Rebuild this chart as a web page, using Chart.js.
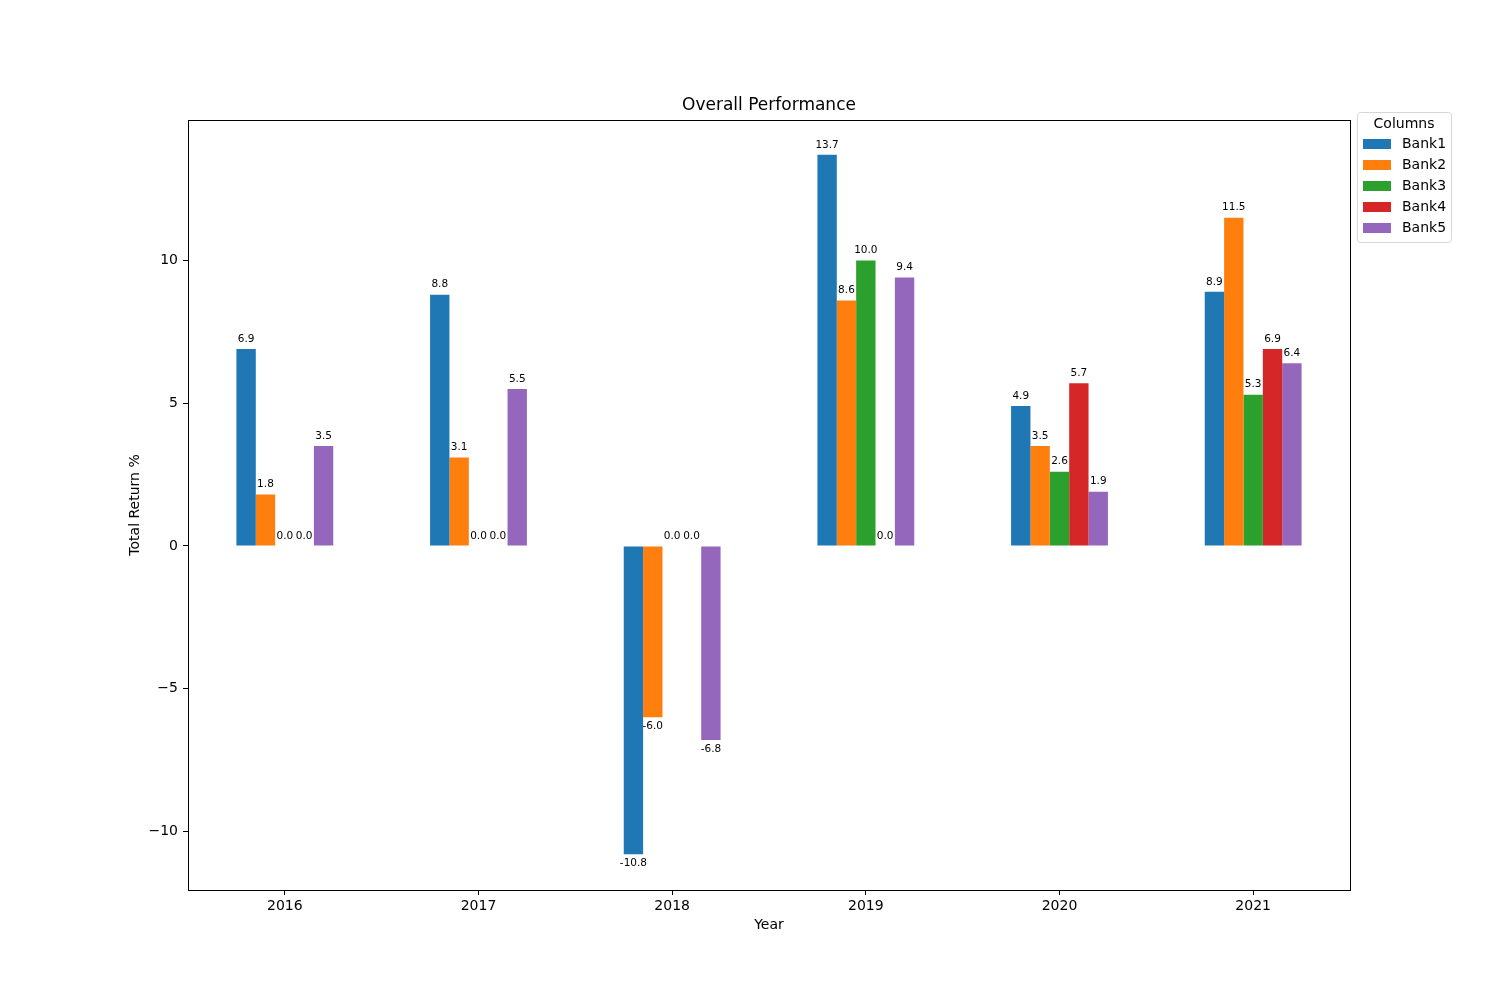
<!DOCTYPE html>
<html>
<head>
<meta charset="utf-8">
<script src="https://cdn.jsdelivr.net/npm/chart.js@4"></script>
<style>
  html, body { margin: 0; padding: 0; background: #fff; }
  #wrap { width: 1500px; height: 1000px; }
</style>
</head>
<body>
<div id="wrap"><canvas id="perfChart" width="1500" height="1000"></canvas></div>
<script>
const years = ['2016', '2017', '2018', '2019', '2020', '2021'];
const bankNames = ['Bank1', 'Bank2', 'Bank3', 'Bank4', 'Bank5'];
const bank1 = [6.9, 8.8, -10.8, 13.7, 4.9, 8.9];
const bank2 = [1.8, 3.1, -6.0, 8.6, 3.5, 11.5];
const bank3 = [0.0, 0.0, 0.0, 10.0, 2.6, 5.3];
const bank4 = [0.0, 0.0, 0.0, 0.0, 5.7, 6.9];
const bank5 = [3.5, 5.5, -6.8, 9.4, 1.9, 6.4];
const yTicks = [-10, -5, 0, 5, 10];
const colors = ['#1f77b4', '#ff7f0e', '#2ca02c', '#d62728', '#9467bd'];

const FONT = '"DejaVu Sans", sans-serif';

const decorPlugin = {
  id: 'decor',
  afterDatasetsDraw(chart) {
    const { ctx, chartArea } = chart;
    ctx.save();

    // value labels over / under each bar
    ctx.font = `10.5px ${FONT}`;
    ctx.fillStyle = '#000';
    ctx.textAlign = 'center';
    ctx.textBaseline = 'middle';
    chart.data.datasets.forEach((ds, i) => {
      const meta = chart.getDatasetMeta(i);
      meta.data.forEach((bar, j) => {
        const v = ds.data[j];
        const y = v < 0 ? bar.y + 9 : bar.y - 10;
        ctx.fillText(v.toFixed(1), bar.x, y);
      });
    });

    // frame
    ctx.strokeStyle = '#000';
    ctx.lineWidth = 1;
    ctx.strokeRect(Math.round(chartArea.left) + 0.5, Math.round(chartArea.top) + 0.5,
      Math.round(chartArea.right - chartArea.left), Math.round(chartArea.bottom - chartArea.top));

    // title + axis titles
    const cx = (chartArea.left + chartArea.right) / 2;
    ctx.font = `17px ${FONT}`;
    ctx.fillText('Overall Performance', cx, 106);
    ctx.font = `14px ${FONT}`;
    ctx.fillText('Year', cx, 925);
    ctx.save();
    ctx.translate(135, (chartArea.top + chartArea.bottom) / 2);
    ctx.rotate(-Math.PI / 2);
    ctx.fillText('Total Return %', 0, 0);
    ctx.restore();

    // legend
    const lx = 1357, ly = 112, lw = 94, lh = 130;
    ctx.fillStyle = 'rgba(255,255,255,0.8)';
    ctx.strokeStyle = '#d6d6d6';
    ctx.beginPath();
    ctx.roundRect(lx + 0.5, ly + 0.5, lw, lh, 3);
    ctx.fill();
    ctx.stroke();
    ctx.fillStyle = '#000';
    ctx.font = `14px ${FONT}`;
    ctx.textAlign = 'center';
    ctx.fillText('Columns', lx + lw / 2, ly + 12);
    ctx.textAlign = 'left';
    bankNames.forEach((name, i) => {
      const ey = ly + 32 + i * 21;
      ctx.fillStyle = colors[i];
      ctx.fillRect(lx + 6, ey - 5, 28, 10);
      ctx.fillStyle = '#000';
      ctx.fillText(name, lx + 45, ey);
    });

    ctx.restore();
  },
};

new Chart(document.getElementById('perfChart'), {
  type: 'bar',
  data: {
    labels: years,
    datasets: [bank1, bank2, bank3, bank4, bank5].map((vals, i) => ({
      label: bankNames[i],
      data: vals,
      backgroundColor: colors[i],
      borderWidth: 0,
      categoryPercentage: 0.5,
      barPercentage: 1.0,
    })),
  },
  options: {
    responsive: false,
    animation: false,
    devicePixelRatio: 1,
    layout: { padding: { top: 120, right: 150, bottom: 0, left: 0 } },
    scales: {
      x: {
        offset: true,
        grid: { display: true, drawOnChartArea: false, drawTicks: true, tickLength: 5, color: '#000', offset: false },
        border: { display: false },
        ticks: { color: '#000', font: { family: FONT, size: 14 }, padding: 3, maxRotation: 0 },
        afterFit: (scale) => { scale.height = 110; },
      },
      y: {
        min: -12.05,
        max: 14.92,
        afterBuildTicks: (scale) => { scale.ticks = yTicks.map((v) => ({ value: v })); },
        afterFit: (scale) => { scale.width = 188; },
        grid: { display: true, drawOnChartArea: false, drawTicks: true, tickLength: 5, color: '#000' },
        border: { display: false },
        ticks: {
          color: '#000',
          font: { family: FONT, size: 14 },
          padding: 5,
          callback: (v) => (v < 0 ? '\u2212' + Math.abs(v) : String(v)),
        },
      },
    },
    plugins: {
      legend: { display: false },
      title: { display: false },
      tooltip: { enabled: false },
    },
  },
  plugins: [decorPlugin],
});
</script>
</body>
</html>
